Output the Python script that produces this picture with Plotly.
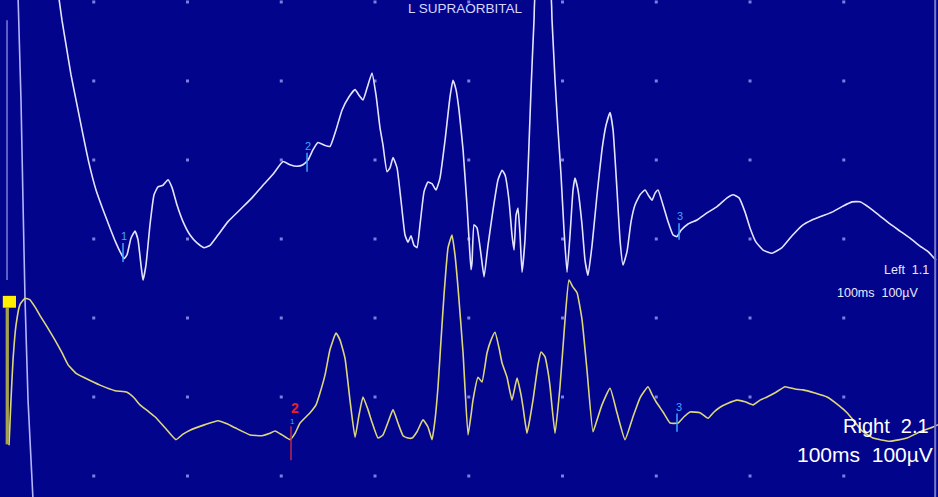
import plotly.graph_objects as go

# ---- Upper trace: Left 1.1 (L SUPRAORBITAL) ----
left_t = [6.19, 6.61, 7.04, 7.57, 8.21, 8.85, 9.49, 10.24, 10.99, 11.73, 12.37, 12.80, 13.23, 13.55,
          13.97, 14.40, 14.72, 15.04, 15.25, 15.57, 16.00, 16.43, 16.85, 17.39, 17.92, 18.35, 18.88,
          19.52, 20.27, 21.01, 21.76, 22.40, 23.25, 24.32, 25.60, 26.88, 28.05, 29.12, 30.19, 30.93,
          31.68, 32.32, 32.85, 33.39, 33.92, 34.56, 35.20, 35.84, 36.48, 37.23, 37.87, 38.29, 38.72,
          39.15, 39.68, 40.11, 40.53, 40.85, 41.28, 41.60, 41.92, 42.35, 42.77, 43.20, 43.52, 43.84,
          44.16, 44.48, 44.80, 45.23, 45.65, 46.08, 46.51, 46.93, 47.47, 48.00, 48.32, 48.64, 48.96,
          49.39, 49.81, 50.03, 50.24, 50.35, 50.56, 50.88, 51.31, 51.63, 52.05, 52.59, 53.12, 53.55,
          53.87, 54.29, 54.61, 54.83, 55.04, 55.25, 55.47, 55.68, 56.00, 56.32, 56.64, 56.96, 57.17,
          58.67, 58.88, 59.20, 59.52, 59.84, 60.16, 60.48, 60.80, 61.12, 61.33, 61.65, 62.08, 62.40,
          62.72, 63.15, 63.68, 64.21, 64.64, 65.07, 65.39, 65.81, 66.13, 66.45, 66.88, 67.31, 67.73,
          68.27, 68.80, 69.23, 69.55, 69.87, 70.19, 70.72, 71.25, 71.79, 72.21, 72.64, 73.39, 74.35,
          75.41, 76.48, 77.55, 78.19, 78.83, 79.47, 80.00, 80.64, 81.39, 82.35, 83.41, 84.48, 85.55,
          86.61, 87.68, 88.75, 89.81, 90.88, 91.73, 92.80, 93.87, 94.93, 96.00, 97.07, 98.13, 98.99,
          99.84]
left_uv = [613, 577, 546, 508, 470, 432, 396, 362, 337, 314, 295, 284, 275, 280,
           301, 310, 299, 267, 248, 267, 318, 356, 366, 368, 375, 365, 343,
           322, 305, 295, 289, 292, 305, 322, 337, 352, 368, 382, 398, 394,
           392, 394, 400, 413, 422, 419, 417, 438, 463, 480, 489, 482, 476,
           491, 510, 482, 441, 419, 385, 390, 403, 390, 349, 305, 296, 304,
           292, 289, 318, 360, 372, 370, 362, 377, 425, 480, 501, 489, 463,
           413, 343, 299, 261, 271, 318, 314, 280, 252, 292, 337, 375, 387,
           381, 349, 305, 286, 330, 339, 305, 258, 299, 387, 489, 577, 615,
           615, 577, 501, 438, 381, 311, 258, 305, 362, 377, 362, 318, 273,
           254, 292, 356, 413, 444, 460, 438, 362, 299, 267, 284, 322, 343,
           356, 362, 354, 349, 358, 362, 343, 322, 305, 303, 311, 319, 324,
           333, 341, 352, 356, 352, 334, 314, 296, 286, 282, 289, 304, 317,
           324, 329, 334, 341, 347, 347, 339, 329, 319, 310, 301, 291, 284,
           273]

# ---- Lower trace: Right 2.1 ----
right_t = [0.96, 1.17, 1.39, 1.71, 2.13, 2.67, 3.20, 3.73, 4.27, 5.01, 5.87, 6.61, 7.25, 8.11, 9.07,
           10.67, 12.27, 13.55, 14.29, 14.93, 15.79, 16.53, 17.60, 18.77, 19.52, 20.27, 21.87, 23.25,
           24.21, 25.07, 26.67, 27.95, 28.80, 29.33, 30.08, 30.93, 31.47, 32.00, 33.07, 33.71, 34.13,
           34.67, 35.20, 35.84, 36.27, 36.80, 37.33, 37.87, 38.29, 38.72, 39.25, 39.68, 40.32, 40.85,
           41.39, 41.92, 42.45, 42.99, 43.52, 43.95, 44.48, 45.12, 45.65, 46.08, 46.40, 46.72, 47.04,
           47.36, 47.79, 48.21, 48.53, 48.85, 49.39, 49.92, 50.24, 50.45, 50.99, 51.41, 51.95, 52.37,
           52.80, 53.23, 53.55, 54.08, 54.61, 55.15, 55.57, 55.79, 56.21, 56.53, 56.85, 57.39, 57.71,
           58.13, 58.45, 58.67, 59.20, 59.73, 60.27, 60.69, 61.12, 61.55, 62.08, 62.61, 63.25, 63.68,
           64.21, 65.07, 65.81, 66.67, 67.52, 68.27, 69.12, 69.55, 70.08, 70.72, 71.47, 72.32, 72.96,
           73.60, 74.67, 75.52, 76.16, 76.80, 77.65, 78.61, 79.47, 80.32, 81.07, 81.81, 82.77, 83.73,
           84.80, 85.65, 86.93, 88.21, 89.39, 90.35, 91.20, 91.95, 93.12, 94.93, 96.75, 98.13, 99.52,
           100.05]
right_uv = [39, 96, 147, 191, 217, 225, 223, 214, 203, 189, 172, 156, 141, 130, 124,
            115, 108, 106, 99, 90, 82, 75, 61, 46, 53, 58, 65, 70,
            66, 61, 52, 51, 54, 57, 52, 46, 54, 67, 80, 90, 105,
            128, 160, 181, 172, 149, 96, 49, 77, 100, 84, 68, 48, 52,
            68, 84, 67, 51, 48, 48, 56, 71, 62, 46, 71, 113, 172,
            229, 289, 305, 280, 239, 156, 52, 77, 96, 125, 119, 156, 172,
            182, 162, 143, 125, 96, 124, 103, 87, 54, 73, 96, 141, 157,
            151, 132, 113, 54, 113, 198, 248, 239, 232, 198, 134, 56, 71,
            90, 111, 80, 46, 75, 99, 113, 103, 92, 81, 67, 67, 75,
            81, 80, 73, 81, 87, 92, 96, 94, 90, 96, 100, 106, 113,
            110, 109, 105, 100, 90, 80, 68, 57, 48, 44, 48, 56, 62,
            65]

# ---- Stimulus artifact ----
artifact_t = [1.92, 2.24, 2.45, 2.67, 2.99, 3.52]
artifact_uv = [609, 476, 349, 223, 96, -30]

# ---- Cursor markers ----
left_cursor_labels = ["1", "2", "3"]
left_cursor_t = [13.12, 32.75, 72.43]
left_cursor_uv = [(271, 295), (385, 409), (299, 320)]
right_cursor_labels = ["3"]
right_cursor_t = [72.21]
right_cursor_uv = [(56, 79)]

grid_t = [10, 20, 30, 40, 50, 60, 70, 80, 90]
grid_uv = [0, 100, 200, 300, 400, 500, 600]

BG = "#03048c"
TRACE_W = "#e4e4ff"
TRACE_Y = "#dcd77c"
CURSOR = "#3fa6ff"
FONT = "Liberation Sans, Arial, sans-serif"

fig = go.Figure()

gx = [t for t in grid_t for _ in grid_uv]
gy = [v for _ in grid_t for v in grid_uv]
fig.add_trace(go.Scatter(x=gx, y=gy, mode="markers",
                         marker=dict(symbol="square", size=3, color="#7e7ee0"),
                         hoverinfo="skip", showlegend=False))

fig.add_trace(go.Scatter(x=artifact_t, y=artifact_uv, mode="lines",
                         line=dict(color="#b4b4ff", width=1.6), showlegend=False))
fig.add_trace(go.Scatter(x=left_t, y=left_uv, mode="lines", name="Left 1.1",
                         line=dict(color=TRACE_W, width=1.6, shape="spline", smoothing=0.4),
                         showlegend=False))
fig.add_trace(go.Scatter(x=right_t, y=right_uv, mode="lines", name="Right 2.1",
                         line=dict(color=TRACE_Y, width=1.6, shape="spline", smoothing=0.4),
                         showlegend=False))

shapes = []
for lab, t, (y0, y1) in zip(left_cursor_labels, left_cursor_t, left_cursor_uv):
    shapes.append(dict(type="line", xref="x", yref="y", x0=t, x1=t, y0=y0, y1=y1,
                       line=dict(color=CURSOR, width=1.5)))
    fig.add_annotation(x=t, y=y1, text=lab, showarrow=False, yanchor="bottom", xanchor="center",
                       font=dict(family=FONT, size=11, color=CURSOR), xshift=1, yshift=-1)
for lab, t, (y0, y1) in zip(right_cursor_labels, right_cursor_t, right_cursor_uv):
    shapes.append(dict(type="line", xref="x", yref="y", x0=t, x1=t, y0=y0, y1=y1,
                       line=dict(color=CURSOR, width=1.5)))
    fig.add_annotation(x=t, y=y1, text=lab, showarrow=False, yanchor="bottom", xanchor="center",
                       font=dict(family=FONT, size=11, color=CURSOR), xshift=2, yshift=-1)

# cursor 2 on lower trace (red) with small blue 1
shapes.append(dict(type="line", xref="x", yref="y", x0=31.04, x1=31.04, y0=20, y1=63,
                   line=dict(color="#c0284a", width=1.5)))
fig.add_annotation(x=31.25, y=69, text="1", showarrow=False, yanchor="middle",
                   font=dict(family=FONT, size=8, color=CURSOR))
fig.add_annotation(x=31.47, y=86, text="<b>2</b>", showarrow=False, yanchor="middle",
                   font=dict(family=FONT, size=14, color="#e8202a"))

# left-edge markers and right border
shapes.append(dict(type="line", xref="x", yref="y", x0=0.75, x1=0.75, y0=577, y1=248,
                   line=dict(color="#7c7cd8", width=1.5)))
shapes.append(dict(type="rect", xref="x", yref="y", x0=0.6, x1=0.95, y0=40, y1=213,
                   line=dict(width=0), fillcolor="#a6a24a"))
shapes.append(dict(type="rect", xref="x", yref="y", x0=0.3, x1=1.71, y0=213, y1=228,
                   line=dict(width=0), fillcolor="#ffee00"))
shapes.append(dict(type="line", xref="x", yref="paper", x0=99.75, x1=99.75, y0=0, y1=1,
                   line=dict(color="#7878c8", width=2)))

fig.add_annotation(x=49.6, y=592, text="L SUPRAORBITAL", showarrow=False,
                   font=dict(family=FONT, size=13.5, color="#d6d6ff"))
fig.add_annotation(x=94.08, y=261, text="Left&nbsp;&nbsp;1.1", showarrow=False, xanchor="left",
                   font=dict(family=FONT, size=12.5, color="#e8e8ff"))
fig.add_annotation(x=89.07, y=232, text="100ms&nbsp;&nbsp;100µV", showarrow=False, xanchor="left",
                   font=dict(family=FONT, size=12.5, color="#e8e8ff"))
fig.add_annotation(x=89.7, y=63, text="Right&nbsp;&nbsp;2.1", showarrow=False, xanchor="left",
                   font=dict(family=FONT, size=20, color="#ffffff"))
fig.add_annotation(x=84.8, y=27, text="100ms&nbsp;&nbsp;100µV", showarrow=False, xanchor="left",
                   font=dict(family=FONT, size=21, color="#ffffff"))

fig.update_layout(
    width=938, height=497,
    margin=dict(l=0, r=0, t=0, b=0),
    paper_bgcolor=BG, plot_bgcolor=BG,
    xaxis=dict(range=[0, 100.05], visible=False, fixedrange=True),
    yaxis=dict(range=[-26.6, 602.5], visible=False, fixedrange=True),
    shapes=shapes,
    showlegend=False,
)

fig.write_html("out.html", config={"displayModeBar": False},
               post_script="document.body.style.margin='0';document.body.style.background='#03048c';")
